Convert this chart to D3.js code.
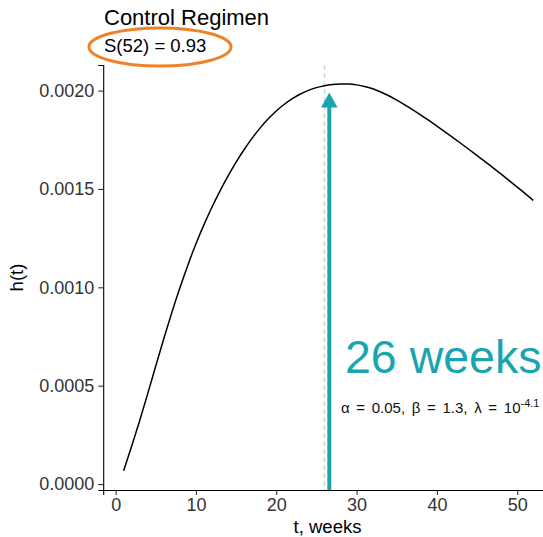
<!DOCTYPE html>
<html>
<head>
<meta charset="utf-8">
<script src="https://cdn.jsdelivr.net/npm/d3@7"></script>
<style>
  html, body { margin: 0; padding: 0; background: #fff; }
  svg { display: block; font-family: "Liberation Sans", Arial, Helvetica, sans-serif; }
</style>
</head>
<body>
<svg id="chart" width="543" height="537"></svg>
<script>
// Hazard curve h(t) for the control regimen, weekly from week 1 to week 52
const weeks = d3.range(1, 53);
const hazard = [
  0.0000680, 0.0001930, 0.0003235, 0.0004610, 0.0006010, 0.0007395, 0.0008725, 0.0009975,
  0.0011140, 0.0012215, 0.0013185, 0.0014080, 0.0014905, 0.0015665, 0.0016365, 0.0017005,
  0.0017585, 0.0018105, 0.0018565, 0.0018965, 0.0019305, 0.0019590, 0.0019825, 0.0020010,
  0.0020150, 0.0020250, 0.0020310, 0.0020335, 0.0020330, 0.0020290, 0.0020210, 0.0020090,
  0.0019930, 0.0019735, 0.0019515, 0.0019275, 0.0019020, 0.0018755, 0.0018480, 0.0018195,
  0.0017905, 0.0017610, 0.0017310, 0.0017005, 0.0016695, 0.0016385, 0.0016070, 0.0015750,
  0.0015425, 0.0015095, 0.0014760, 0.0014420];

const xTicks = [0, 10, 20, 30, 40, 50];
const yTicks = [0.0000, 0.0005, 0.0010, 0.0015, 0.0020];

const referenceWeek = 26;     // dashed reference line
const arrowWeek = 26.6;       // arrow marking the 26-week point
const arrowTop = 0.00199;

const titleText = "Control Regimen";
const survivalText = "S(52) = 0.93";
const arrowLabel = "26 weeks";

const teal = "#19a5b0";
const orange = "#ef8127";

const svg = d3.select("#chart");

// Panel scales (ggplot-style 5% expansion around the data range)
const x = d3.scaleLinear().domain([-1.55, 54.55]).range([103.2, 553.8]);
const y = d3.scaleLinear().domain([-0.0000302, 0.00213]).range([490, 65]);

const panelTop = y.range()[1], panelBottom = y.range()[0];

// Reference line at week 26
svg.append("line")
  .attr("x1", x(referenceWeek)).attr("x2", x(referenceWeek))
  .attr("y1", panelTop).attr("y2", panelBottom)
  .attr("stroke", "#d4d4d4").attr("stroke-width", 1.4)
  .attr("stroke-dasharray", "5,3");

// Hazard curve
const pts = weeks.map((t, i) => [t, hazard[i]]);
svg.append("path")
  .datum(pts)
  .attr("fill", "none")
  .attr("stroke", "#000")
  .attr("stroke-width", 1.5)
  .attr("d", d3.line().x(d => x(d[0])).y(d => y(d[1])).curve(d3.curveNatural));

// Arrow from the axis up to the curve
const ax = x(arrowWeek), tipY = y(arrowTop);
const headH = 15, headW = 8.3;
svg.append("line")
  .attr("x1", ax).attr("x2", ax)
  .attr("y1", panelBottom).attr("y2", tipY + headH - 1)
  .attr("stroke", teal).attr("stroke-width", 4);
svg.append("path")
  .attr("d", `M${ax},${tipY} L${ax - headW},${tipY + headH} L${ax + headW},${tipY + headH} Z`)
  .attr("fill", teal);

// Axes
const xAxis = svg.append("g")
  .attr("transform", `translate(0,${panelBottom})`)
  .call(d3.axisBottom(x).tickValues(xTicks).tickFormat(d3.format("d")).tickSizeOuter(0).tickSize(5).tickPadding(3));
const yAxis = svg.append("g")
  .attr("transform", `translate(${x.range()[0]},0)`)
  .call(d3.axisLeft(y).tickValues(yTicks).tickFormat(d3.format(".4f")).tickSizeOuter(0).tickSize(5).tickPadding(4));

[xAxis, yAxis].forEach(g => {
  g.select(".domain").attr("stroke", "#000").attr("stroke-width", 1.1);
  g.selectAll(".tick line").attr("stroke", "#333").attr("stroke-width", 1.1);
  g.selectAll(".tick text").attr("fill", "#333").style("font-size", "18px")
    .style("font-family", "'Liberation Sans', Arial, sans-serif");
});

// Axis titles
svg.append("text")
  .attr("x", (x.range()[0] + x.range()[1]) / 2 - 1)
  .attr("y", 533)
  .attr("text-anchor", "middle")
  .style("font-size", "18.5px")
  .text("t, weeks");
svg.append("text")
  .attr("transform", `translate(23,${(panelTop + panelBottom) / 2}) rotate(-90)`)
  .attr("text-anchor", "middle")
  .style("font-size", "18.5px")
  .text("h(t)");

// Title and survival annotation
svg.append("text")
  .attr("x", 104).attr("y", 25)
  .style("font-size", "22px")
  .text(titleText);
svg.append("text")
  .attr("x", 104).attr("y", 52)
  .style("font-size", "18.5px")
  .text(survivalText);
svg.append("ellipse")
  .attr("cx", 160).attr("cy", 47).attr("rx", 71).attr("ry", 19)
  .attr("fill", "none").attr("stroke", orange).attr("stroke-width", 3);

// Arrow label and parameter note
svg.append("text")
  .attr("x", 345).attr("y", 373)
  .attr("fill", teal)
  .style("font-size", "46.5px")
  .text(arrowLabel);

const params = svg.append("text")
  .attr("x", 341).attr("y", 413)
  .style("font-size", "15px")
  .style("word-spacing", "2.5px")
  .attr("fill", "#111");
params.append("tspan").text("α = 0.05, β = 1.3, λ = 10");
params.append("tspan").attr("dy", -6).style("font-size", "11px").text("-4.1");
</script>
</body>
</html>
